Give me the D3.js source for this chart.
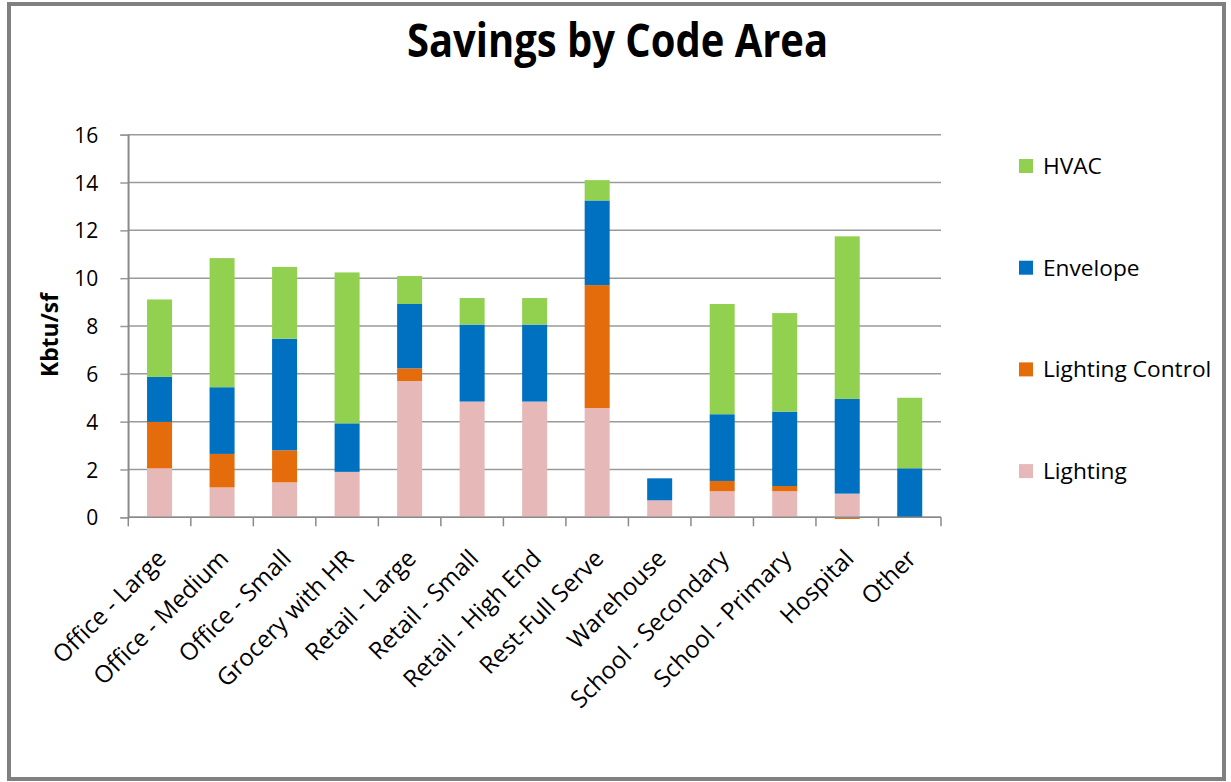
<!DOCTYPE html>
<html>
<head>
<meta charset="utf-8">
<script src="https://cdn.jsdelivr.net/npm/d3@7"></script>
<style>
  html, body { margin: 0; padding: 0; background: #fff; }
  svg { display: block; font-family: "Open Sans", "DejaVu Sans", sans-serif; }
</style>
</head>
<body>
<svg id="chart" width="1231" height="782"></svg>
<script>
// Building types along the x axis
const categories = [
  "Office - Large", "Office - Medium", "Office - Small", "Grocery with HR",
  "Retail - Large", "Retail - Small", "Retail - High End", "Rest-Full Serve",
  "Warehouse", "School - Secondary", "School - Primary", "Hospital", "Other"
];

// Savings per code area, Kbtu/sf (stacked bottom to top)
const lighting        = [2.05, 1.25, 1.46, 1.90, 5.70, 4.84, 4.84, 4.57, 0.71, 1.09, 1.09, 0.99, 0.00];
const lightingControl = [1.94, 1.40, 1.34, 0.00, 0.53, 0.00, 0.00, 5.14, 0.00, 0.43, 0.22, -0.07, 0.00];
const envelope        = [1.88, 2.79, 4.67, 2.03, 2.69, 3.22, 3.22, 3.54, 0.92, 2.79, 3.11, 3.96, 2.05];
const hvac            = [3.24, 5.40, 3.00, 6.31, 1.17, 1.11, 1.11, 0.85, 0.00, 4.61, 4.12, 6.80, 2.95];

const seriesNames = ["Lighting", "Lighting Control", "Envelope", "HVAC"];
const seriesColors = ["#E6B9B8", "#E46C0A", "#0070C0", "#92D050"];
const yTicks = [0, 2, 4, 6, 8, 10, 12, 14, 16];

const svg = d3.select("#chart");
const W = 1231, H = 782;

// Outer chart frame
svg.append("rect")
  .attr("x", 9).attr("y", 4)
  .attr("width", W - 16).attr("height", H - 7)
  .attr("fill", "#fff")
  .attr("stroke", "#808080")
  .attr("stroke-width", 4);

// Plot area
const plot = { left: 128.3, right: 941, top: 134.7, bottom: 517.3 };

const x = d3.scaleBand()
  .domain(categories)
  .range([plot.left, plot.right])
  .padding(0);

const y = d3.scaleLinear()
  .domain([0, 16])
  .range([plot.bottom, plot.top]);

// Title
const title = svg.append("text")
  .attr("x", 617.5).attr("y", 57)
  .attr("text-anchor", "middle")
  .attr("font-size", 46)
  .attr("font-weight", "bold")
  .attr("fill", "#000")
  .text("Savings by Code Area");
if (title.node().getComputedTextLength() > 421) {
  title.attr("textLength", 421).attr("lengthAdjust", "spacingAndGlyphs");
}

// Horizontal gridlines
svg.append("g")
  .selectAll("line")
  .data(yTicks)
  .join("line")
  .attr("x1", plot.left).attr("x2", plot.right)
  .attr("y1", d => y(d)).attr("y2", d => y(d))
  .attr("stroke", "#9a9a9a")
  .attr("stroke-width", 1.5);

// Y axis
const yAxis = svg.append("g")
  .attr("transform", `translate(${plot.left},0)`)
  .call(d3.axisLeft(y).tickValues(yTicks).tickSize(8).tickPadding(22).tickFormat(d3.format("d")));
yAxis.select(".domain").attr("stroke", "#8a8a8a").attr("stroke-width", 1.5);
yAxis.selectAll(".tick line").attr("stroke", "#9a9a9a").attr("stroke-width", 1.5);
yAxis.selectAll(".tick text")
  .attr("font-size", 21)
  .attr("font-family", "'Open Sans', sans-serif")
  .attr("fill", "#000")
  .attr("dy", "0.36em");

// Y axis title
const yTitle = svg.append("text")
  .attr("transform", "translate(58,335) rotate(-90)")
  .attr("text-anchor", "middle")
  .attr("font-size", 23)
  .attr("font-weight", "bold")
  .attr("fill", "#000")
  .text("Kbtu/sf");
if (yTitle.node().getComputedTextLength() > 84) {
  yTitle.attr("textLength", 84).attr("lengthAdjust", "spacingAndGlyphs");
}

// Stacked bars (negative values stack below zero)
const rows = categories.map((c, i) => ({
  category: c,
  "Lighting": lighting[i],
  "Lighting Control": lightingControl[i],
  "Envelope": envelope[i],
  "HVAC": hvac[i]
}));

const stack = d3.stack()
  .keys(seriesNames)
  .offset(d3.stackOffsetDiverging);
const stacked = stack(rows);

const color = d3.scaleOrdinal().domain(seriesNames).range(seriesColors);
const barW = x.bandwidth() * 0.4;
const barOff = (x.bandwidth() - barW) / 2;

svg.append("g")
  .selectAll("g")
  .data(stacked)
  .join("g")
  .attr("fill", d => color(d.key))
  .selectAll("rect")
  .data(d => d.filter(s => s[1] !== s[0]))
  .join("rect")
  .attr("x", d => x(d.data.category) + barOff)
  .attr("width", barW)
  .attr("y", d => y(Math.max(d[0], d[1])))
  .attr("height", d => Math.abs(y(d[0]) - y(d[1])));

// X axis line and boundary ticks
const xAxisG = svg.append("g");
xAxisG.append("line")
  .attr("x1", plot.left).attr("x2", plot.right)
  .attr("y1", plot.bottom).attr("y2", plot.bottom)
  .attr("stroke", "#8a8a8a").attr("stroke-width", 1.5);
const boundaries = categories.map(c => x(c)).concat([plot.right]);
xAxisG.selectAll("line.tick")
  .data(boundaries)
  .join("line")
  .attr("class", "tick")
  .attr("x1", d => d).attr("x2", d => d)
  .attr("y1", plot.bottom).attr("y2", plot.bottom + 9)
  .attr("stroke", "#8a8a8a").attr("stroke-width", 1.5);

// Y axis line drawn over the bars' base
svg.append("line")
  .attr("x1", plot.left).attr("x2", plot.left)
  .attr("y1", plot.top).attr("y2", plot.bottom)
  .attr("stroke", "#8a8a8a").attr("stroke-width", 1.5);

// Rotated category labels
xAxisG.selectAll("text")
  .data(categories)
  .join("text")
  .attr("transform", d => `translate(${x(d) + x.bandwidth() / 2 + 2},554) rotate(-45)`)
  .attr("text-anchor", "end")
  .attr("dy", "0.35em")
  .attr("font-size", 24)
  .attr("fill", "#000")
  .text(d => d);

// Legend (top to bottom: HVAC, Envelope, Lighting Control, Lighting)
const legendOrder = seriesNames.slice().reverse();
const legend = svg.append("g")
  .selectAll("g")
  .data(legendOrder)
  .join("g")
  .attr("transform", (d, i) => `translate(1019,${166 + i * 101.7})`);
legend.append("rect")
  .attr("x", 0).attr("y", -7)
  .attr("width", 14).attr("height", 14)
  .attr("fill", d => color(d));
legend.append("text")
  .attr("x", 24).attr("y", 0)
  .attr("dy", "0.35em")
  .attr("font-size", 22.7)
  .attr("fill", "#000")
  .text(d => d);
</script>
</body>
</html>
